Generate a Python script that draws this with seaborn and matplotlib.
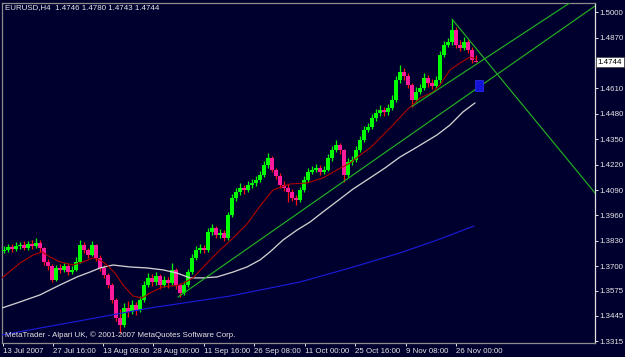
import numpy as np
import pandas as pd
import matplotlib
matplotlib.use("Agg")
import matplotlib.pyplot as plt
from matplotlib.patches import Rectangle
import matplotlib.transforms as mtransforms
import seaborn as sns

# ---------------- data (EURUSD H4, one candle per group of bars) ----------------
opens = [
    1.3778, 1.3783, 1.3798, 1.3788, 1.3804, 1.3809, 1.3793, 1.3814, 1.3804, 1.3819,
    1.3793, 1.3722, 1.3701, 1.3629, 1.3691, 1.3681, 1.3701, 1.3670, 1.3681, 1.3722,
    1.3809, 1.3783, 1.3757, 1.3809, 1.3742, 1.3691, 1.3655, 1.3604, 1.3527, 1.3435,
    1.3399, 1.3486, 1.3466, 1.3501, 1.3476, 1.3527, 1.3604, 1.3640, 1.3619, 1.3650,
    1.3604, 1.3629, 1.3614, 1.3681, 1.3604, 1.3563, 1.3604, 1.3670, 1.3742, 1.3783,
    1.3793, 1.3783, 1.3875, 1.3896, 1.3860, 1.3870, 1.3844, 1.3962, 1.4049, 1.4080,
    1.4100, 1.4090, 1.4116, 1.4126, 1.4141, 1.4167, 1.4218, 1.4254, 1.4193, 1.4162,
    1.4116, 1.4100, 1.4080, 1.4049, 1.4039, 1.4090, 1.4141, 1.4182, 1.4193, 1.4203,
    1.4182, 1.4193, 1.4254, 1.4295, 1.4321, 1.4295, 1.4167, 1.4234, 1.4244, 1.4295,
    1.4346, 1.4397, 1.4413, 1.4459, 1.4484, 1.4500, 1.4490, 1.4510, 1.4551, 1.4653,
    1.4694, 1.4674, 1.4628, 1.4551, 1.4592, 1.4612, 1.4664, 1.4638, 1.4623, 1.4653,
    1.4781, 1.4833, 1.4848, 1.4909, 1.4833, 1.4817, 1.4848, 1.4807, 1.4746]
highs = [
    1.3805, 1.3815, 1.3812, 1.3825, 1.3822, 1.3828, 1.3830, 1.3832, 1.3845, 1.3835,
    1.3800, 1.3735, 1.3710, 1.3705, 1.3712, 1.3718, 1.3710, 1.3700, 1.3745, 1.3835,
    1.3825, 1.3795, 1.3830, 1.3815, 1.3755, 1.3705, 1.3665, 1.3612, 1.3535, 1.3480,
    1.3510, 1.3520, 1.3525, 1.3515, 1.3545, 1.3625, 1.3665, 1.3660, 1.3672, 1.3660,
    1.3650, 1.3645, 1.3715, 1.3690, 1.3615, 1.3625, 1.3685, 1.3760, 1.3805, 1.3815,
    1.3810, 1.3895, 1.3915, 1.3905, 1.3890, 1.3885, 1.3980, 1.4070, 1.4100, 1.4125,
    1.4115, 1.4135, 1.4145, 1.4160, 1.4185, 1.4240, 1.4280, 1.4265, 1.4205, 1.4175,
    1.4135, 1.4120, 1.4095, 1.4065, 1.4105, 1.4160, 1.4205, 1.4215, 1.4225, 1.4220,
    1.4215, 1.4275, 1.4315, 1.4345, 1.4330, 1.4300, 1.4255, 1.4265, 1.4315, 1.4365,
    1.4420, 1.4435, 1.4480, 1.4505, 1.4525, 1.4515, 1.4530, 1.4575, 1.4675, 1.4730,
    1.4715, 1.4690, 1.4640, 1.4615, 1.4635, 1.4690, 1.4680, 1.4660, 1.4675, 1.4800,
    1.4855, 1.4870, 1.4965, 1.4925, 1.4860, 1.4875, 1.4865, 1.4820, 1.4780]
lows = [
    1.3765, 1.3775, 1.3772, 1.3780, 1.3790, 1.3782, 1.3785, 1.3790, 1.3795, 1.3775,
    1.3705, 1.3680, 1.3620, 1.3622, 1.3665, 1.3668, 1.3655, 1.3660, 1.3675, 1.3715,
    1.3770, 1.3740, 1.3750, 1.3725, 1.3675, 1.3640, 1.3590, 1.3510, 1.3420, 1.3360,
    1.3390, 1.3440, 1.3455, 1.3450, 1.3465, 1.3515, 1.3595, 1.3600, 1.3605, 1.3585,
    1.3595, 1.3590, 1.3605, 1.3585, 1.3540, 1.3555, 1.3595, 1.3660, 1.3730, 1.3765,
    1.3765, 1.3775, 1.3860, 1.3845, 1.3845, 1.3830, 1.3835, 1.3950, 1.4035, 1.4065,
    1.4070, 1.4080, 1.4100, 1.4110, 1.4130, 1.4155, 1.4205, 1.4180, 1.4145, 1.4100,
    1.4085, 1.4030, 1.4035, 1.4015, 1.4030, 1.4080, 1.4130, 1.4170, 1.4180, 1.4165,
    1.4170, 1.4185, 1.4240, 1.4285, 1.4275, 1.4130, 1.4155, 1.4220, 1.4235, 1.4285,
    1.4335, 1.4385, 1.4400, 1.4445, 1.4470, 1.4470, 1.4475, 1.4500, 1.4540, 1.4640,
    1.4655, 1.4610, 1.4515, 1.4540, 1.4580, 1.4600, 1.4620, 1.4605, 1.4610, 1.4640,
    1.4770, 1.4820, 1.4835, 1.4815, 1.4800, 1.4805, 1.4790, 1.4740, 1.4743]
closes = [
    1.3783, 1.3798, 1.3788, 1.3804, 1.3809, 1.3793, 1.3814, 1.3804, 1.3819, 1.3793,
    1.3722, 1.3701, 1.3629, 1.3691, 1.3681, 1.3701, 1.3670, 1.3681, 1.3722, 1.3809,
    1.3783, 1.3757, 1.3809, 1.3742, 1.3691, 1.3655, 1.3604, 1.3527, 1.3435, 1.3399,
    1.3486, 1.3466, 1.3501, 1.3476, 1.3527, 1.3604, 1.3640, 1.3619, 1.3650, 1.3604,
    1.3629, 1.3614, 1.3681, 1.3604, 1.3563, 1.3604, 1.3670, 1.3742, 1.3783, 1.3793,
    1.3783, 1.3875, 1.3896, 1.3860, 1.3870, 1.3844, 1.3962, 1.4049, 1.4080, 1.4100,
    1.4090, 1.4116, 1.4126, 1.4141, 1.4167, 1.4218, 1.4254, 1.4193, 1.4162, 1.4116,
    1.4100, 1.4080, 1.4049, 1.4039, 1.4090, 1.4141, 1.4182, 1.4193, 1.4203, 1.4182,
    1.4193, 1.4254, 1.4295, 1.4321, 1.4295, 1.4167, 1.4234, 1.4244, 1.4295, 1.4346,
    1.4397, 1.4413, 1.4459, 1.4484, 1.4500, 1.4490, 1.4510, 1.4551, 1.4653, 1.4694,
    1.4674, 1.4628, 1.4551, 1.4592, 1.4612, 1.4664, 1.4638, 1.4623, 1.4653, 1.4781,
    1.4833, 1.4848, 1.4909, 1.4833, 1.4817, 1.4848, 1.4807, 1.4756, 1.4744]

# moving averages (candle index, price)
red_ma_bar = [-0.5, 4, 7.25, 9.5, 11.5, 14, 17.25, 19.75, 22.25, 24, 25.75, 27.75,
              29.75, 32.25, 34.5, 36.5, 39.75, 44, 47.25, 50.75, 54, 57.25, 60.75,
              64, 67.25, 71.5, 75.75, 79.75, 83.25, 86.5, 89, 91.5, 94, 97.25,
              100.75, 104, 107.25, 109, 111.5, 114, 116.5, 118]
red_ma = [1.3640, 1.3716, 1.3757, 1.3773, 1.3747, 1.3722, 1.3706, 1.3722, 1.3742,
          1.3732, 1.3706, 1.3665, 1.3604, 1.3547, 1.3537, 1.3563, 1.3594, 1.3604,
          1.3640, 1.3716, 1.3783, 1.3844, 1.3916, 1.4008, 1.4090, 1.4121, 1.4126,
          1.4152, 1.4193, 1.4228, 1.4269, 1.4305, 1.4356, 1.4423, 1.4500, 1.4561,
          1.4592, 1.4628, 1.4705, 1.4740, 1.4771, 1.4761]
white_ma_bar = [-0.5, 4, 9, 14, 18.25, 21.5, 24, 27.25, 31.5, 35.75, 39.75, 43.25,
                46.5, 49.75, 53.25, 57.25, 60.75, 64, 66.5, 69.75, 73.25, 76.5,
                79.75, 84, 87.25, 91.5, 95.25, 99, 103.25, 108.25, 111.5, 114.75,
                117.75]
white_ma = [1.3486, 1.3517, 1.3553, 1.3604, 1.3645, 1.3670, 1.3691, 1.3706, 1.3696,
            1.3691, 1.3681, 1.3665, 1.3640, 1.3640, 1.3645, 1.3670, 1.3696, 1.3732,
            1.3773, 1.3834, 1.3885, 1.3926, 1.3978, 1.4044, 1.4095, 1.4152, 1.4203,
            1.4259, 1.4310, 1.4372, 1.4423, 1.4490, 1.4536]
blue_ma_bar = [-0.5, 20.25, 36.5, 56.5, 74, 86.5, 99, 109, 117.5]
blue_ma = [1.3348, 1.3425, 1.3486, 1.3547, 1.3619, 1.3691, 1.3768, 1.3839, 1.3906]

# trend lines: anchor (candle, price) pairs, drawn as rays to the right
trend_lines = [
    ((43.5, 1.3542), (118.0, 1.4607)),
    ((102.0, 1.4518), (118.0, 1.4733)),
    ((112.0, 1.4965), (147.75, 1.4075)),
]
marker_bar, marker_price = 118.75, 1.4625

price_ticks = [1.5000, 1.4870, 1.4610, 1.4480, 1.4350, 1.4220, 1.4090, 1.3960,
               1.3830, 1.3700, 1.3575, 1.3445, 1.3315]
last_price = 1.4744
date_labels = ["13 Jul 2007", "27 Jul 16:00", "13 Aug 08:00", "28 Aug 00:00",
               "11 Sep 16:00", "26 Sep 08:00", "11 Oct 00:00", "25 Oct 16:00",
               "9 Nov 08:00", "26 Nov 00:00"]
date_bars = [-0.35, 12.3, 24.7, 37.25, 50.0, 62.5, 75.25, 87.8, 100.4, 113.0]
title = "EURUSD,H4  1.4746 1.4780 1.4743 1.4744"
copyright_text = "MetaTrader - Alpari UK, \u00a9 2001-2007 MetaQuotes Software Corp."

# ---------------- style ----------------
BG = "#00002e"
FG = "#e6e6e6"
sns.set_theme(style="dark", rc={"axes.facecolor": BG, "figure.facecolor": BG})
plt.rcParams["font.family"] = ["Liberation Sans", "DejaVu Sans"]
FS = 5.7

fig = plt.figure(figsize=(6.25, 3.57), dpi=100)
fig.patch.set_facecolor(BG)
ax = fig.add_axes([2 / 625, 14 / 357, 593 / 625, 340.5 / 357])
ax.set_facecolor(BG)
ax.set_xlim(-0.5, 147.75)
ax.set_ylim(1.33067, 1.50502)
ax.grid(False)

o = np.array(opens); h = np.array(highs); l = np.array(lows); c = np.array(closes)
x = np.arange(len(c))
up = c >= o
LIME = "#00ff00"
DOWN_WICK = "#ff1010"
DOWN_BODY = "#ff1a9c"
ax.vlines(x[up], l[up], h[up], color=LIME, lw=0.9, zorder=2)
ax.vlines(x[~up], l[~up], h[~up], color=DOWN_WICK, lw=0.9, zorder=2)
body_h = np.where(np.abs(c - o) < 0.0005, 0.0005, np.abs(c - o))
ax.bar(x[up], body_h[up], bottom=np.minimum(o, c)[up], width=0.85,
       color=LIME, linewidth=0, zorder=3)
ax.bar(x[~up], body_h[~up], bottom=np.minimum(o, c)[~up], width=0.85,
       color=DOWN_BODY, linewidth=0, zorder=3)

# moving averages
sns.lineplot(x=blue_ma_bar, y=blue_ma, ax=ax, color="#1a1ad8", lw=0.85,
             sort=False, estimator=None, zorder=4)
sns.lineplot(x=white_ma_bar, y=white_ma, ax=ax, color="#cfcfcf", lw=0.95,
             sort=False, estimator=None, zorder=4)
sns.lineplot(x=red_ma_bar, y=red_ma, ax=ax, color="#b00000", lw=0.8,
             sort=False, estimator=None, zorder=5)

# trend lines
x_end = 160
for (x1, y1), (x2, y2) in trend_lines:
    slope = (y2 - y1) / (x2 - x1)
    ax.plot([x1, x_end], [y1, y1 + slope * (x_end - x1)], color="#22b022",
            lw=0.85, zorder=6)

ax.add_patch(Rectangle((marker_bar - 1.0, marker_price - 0.0028), 2.0, 0.0056,
                       facecolor="#1414d8", edgecolor="#3030ff", lw=0.5, zorder=7))

# axes / ticks
for side in ["top", "left", "bottom"]:
    ax.spines[side].set_color("#8c8c8c")
    ax.spines[side].set_linewidth(0.9)
ax.spines["right"].set_color("#e0e0e0")
ax.spines["right"].set_linewidth(0.9)
ax.yaxis.tick_right()
ax.set_yticks(price_ticks)
ax.set_yticklabels([f"{v:.4f}" for v in price_ticks])
ax.tick_params(axis="y", colors=FG, labelsize=FS, length=2.2, width=0.7,
               pad=1.2, direction="out", right=True, left=False)
ax.set_xticks(date_bars)
ax.set_xticklabels(date_labels, ha="left")
ax.tick_params(axis="x", colors=FG, labelsize=FS, length=2.5, width=0.7,
               pad=1.0, direction="out", bottom=True)
for lab in ax.get_xticklabels():
    lab.set_color(FG)
for lab in ax.get_yticklabels():
    lab.set_color(FG)

# last price box on the axis
trans = mtransforms.blended_transform_factory(ax.transAxes, ax.transData)
ax.text(1.0045, last_price, f"{last_price:.4f}", transform=trans, ha="left",
        va="center", fontsize=FS, color="black", zorder=10, clip_on=False,
        bbox=dict(boxstyle="square,pad=0.18", fc="white", ec="#404040", lw=0.5))

fig.text(5 / 625, 1 - 8 / 357, title, color=FG, fontsize=FS, ha="left", va="center")
fig.text(5 / 625, 1 - 335 / 357, copyright_text, color=FG, fontsize=FS,
         ha="left", va="center")

fig.savefig("out.png", dpi=100, facecolor=BG)
